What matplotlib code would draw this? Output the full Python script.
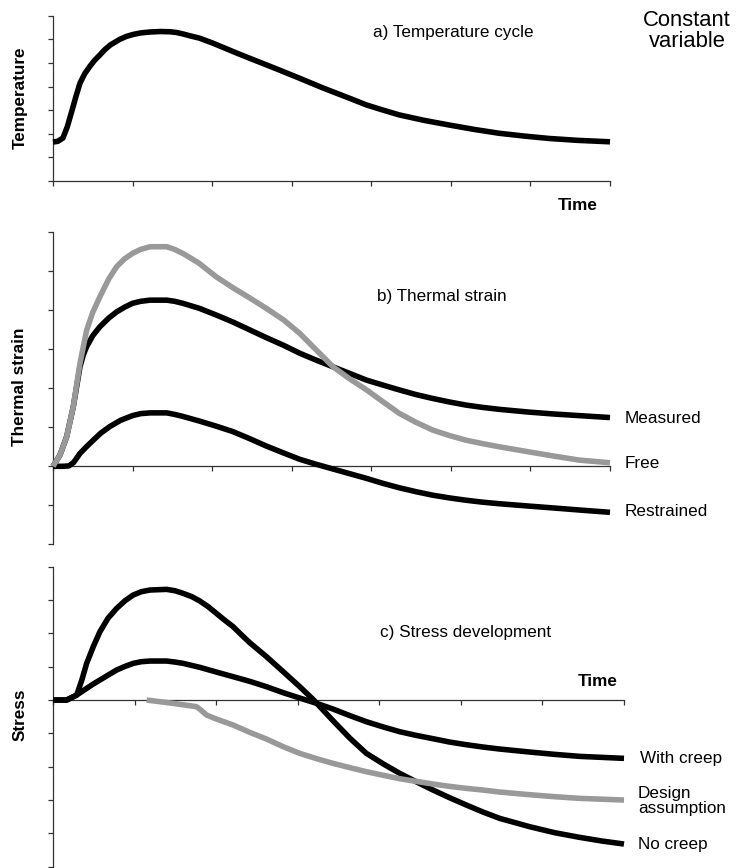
import numpy as np
import matplotlib
matplotlib.use("Agg")
import matplotlib.pyplot as plt

plt.rcParams['font.family'] = ['Liberation Sans', 'DejaVu Sans']

# a) temperature cycle
temp_t = [0, 0.06, 0.125, 0.18, 0.24, 0.29, 0.34, 0.40, 0.46, 0.52, 0.59, 0.65, 0.72,
          0.84, 0.92, 1.0, 1.1, 1.22, 1.35, 1.47, 1.55, 1.63, 1.72, 1.84, 2.0, 2.15,
          2.3, 2.47, 2.8, 3.1, 3.4, 3.73, 3.94, 4.15, 4.35, 4.66, 4.98, 5.3, 5.61,
          5.93, 6.24, 6.6, 7.0]
temp_v = [1.65, 1.68, 1.82, 2.3, 3.0, 3.6, 4.15, 4.55, 4.84, 5.1, 5.34, 5.56, 5.76,
          6.0, 6.12, 6.2, 6.27, 6.31, 6.33, 6.32, 6.29, 6.23, 6.15, 6.05, 5.85, 5.64,
          5.43, 5.2, 4.76, 4.35, 3.93, 3.5, 3.22, 3.0, 2.8, 2.57, 2.37, 2.18, 2.02,
          1.9, 1.80, 1.72, 1.66]

# b) thermal strain
free_t = [0, 0.088, 0.172, 0.255, 0.339, 0.423, 0.5, 0.59, 0.7, 0.8, 0.9, 1.0, 1.1,
          1.22, 1.43, 1.53, 1.63, 1.73, 1.84, 2.05, 2.26, 2.47, 2.68, 2.9, 3.1, 3.3,
          3.52, 3.73, 3.94, 4.15, 4.35, 4.56, 4.77, 4.98, 5.19, 5.4, 5.61, 5.98, 6.3,
          6.61, 7.0]
free_v = [0, 0.29, 0.76, 1.53, 2.64, 3.49, 3.95, 4.35, 4.8, 5.12, 5.32, 5.46, 5.56,
          5.63, 5.63, 5.56, 5.46, 5.34, 5.2, 4.86, 4.58, 4.32, 4.05, 3.75, 3.41, 3.0,
          2.55, 2.24, 1.96, 1.65, 1.36, 1.13, 0.93, 0.79, 0.67, 0.58, 0.5, 0.37, 0.26,
          0.16, 0.09]

meas_t = [0, 0.088, 0.172, 0.255, 0.339, 0.38, 0.423, 0.5, 0.59, 0.7, 0.8, 0.9, 1.0,
          1.1, 1.22, 1.43, 1.53, 1.63, 1.84, 2.05, 2.26, 2.47, 2.68, 2.9, 3.1, 3.31,
          3.52, 3.73, 3.94, 4.15, 4.35, 4.56, 4.77, 4.98, 5.19, 5.4, 5.61, 5.98, 6.3,
          6.61, 7.0]
meas_v = [0, 0.29, 0.76, 1.53, 2.55, 2.85, 3.07, 3.35, 3.58, 3.8, 3.96, 4.08, 4.18,
          4.23, 4.26, 4.26, 4.23, 4.18, 4.05, 3.88, 3.7, 3.5, 3.3, 3.1, 2.9, 2.72,
          2.55, 2.38, 2.21, 2.08, 1.96, 1.84, 1.74, 1.65, 1.57, 1.51, 1.46, 1.39, 1.34,
          1.3, 1.25]

rest_t = [0, 0.125, 0.2, 0.26, 0.339, 0.42, 0.506, 0.6, 0.715, 0.85, 1.0, 1.1, 1.22,
          1.43, 1.53, 1.63, 1.84, 2.05, 2.26, 2.47, 2.68, 2.9, 3.1, 3.31, 3.52, 3.73,
          3.94, 4.15, 4.35, 4.56, 4.77, 4.98, 5.19, 5.4, 5.61, 5.98, 6.3, 6.61, 7.0]
rest_v = [0, 0, 0.01, 0.1, 0.33, 0.5, 0.67, 0.85, 1.02, 1.18, 1.3, 1.35, 1.37,
          1.37, 1.33, 1.28, 1.16, 1.03, 0.89, 0.71, 0.52, 0.34, 0.18, 0.05, -0.07, -0.19,
          -0.31, -0.44, -0.55, -0.65, -0.74, -0.81, -0.87, -0.92, -0.96, -1.02, -1.07,
          -1.12, -1.18]

# c) stress development
nocreep_t = [0, 0.164, 0.287, 0.35, 0.409, 0.49, 0.572, 0.67, 0.777, 0.88, 0.98, 1.08,
             1.185, 1.39, 1.49, 1.593, 1.7, 1.798, 1.9, 2.0, 2.1, 2.206, 2.31, 2.41,
             2.615, 2.82, 3.023, 3.186, 3.431, 3.64, 3.84, 4.05, 4.249, 4.45, 4.657,
             4.86, 5.066, 5.27, 5.475, 5.843, 6.15, 6.456, 6.73, 7.0]
nocreep_v = [0, 0, 0.15, 0.6, 1.1, 1.6, 2.05, 2.45, 2.75, 2.98, 3.15, 3.25,
             3.3, 3.32, 3.28, 3.2, 3.1, 2.97, 2.8, 2.6, 2.4, 2.2, 1.95, 1.72,
             1.3, 0.85, 0.4, 0.02, -0.62, -1.15, -1.6, -1.92, -2.2, -2.45, -2.7,
             -2.93, -3.15, -3.36, -3.55, -3.8, -3.98, -4.12, -4.23, -4.32]

creep_t = [0, 0.164, 0.287, 0.409, 0.49, 0.572, 0.68, 0.777, 0.88, 0.98, 1.08, 1.185,
           1.39, 1.49, 1.593, 1.798, 2.0, 2.206, 2.41, 2.615, 2.82, 3.023, 3.23, 3.431,
           3.64, 3.84, 4.05, 4.249, 4.45, 4.657, 4.86, 5.066, 5.27, 5.475, 5.843, 6.15,
           6.456, 7.0]
creep_v = [0, 0, 0.15, 0.35, 0.48, 0.6, 0.76, 0.9, 1.01, 1.1, 1.15, 1.17,
           1.17, 1.14, 1.1, 0.98, 0.84, 0.7, 0.56, 0.4, 0.22, 0.06, -0.1, -0.27,
           -0.47, -0.65, -0.81, -0.95, -1.06, -1.16, -1.26, -1.34, -1.41, -1.47, -1.56,
           -1.63, -1.69, -1.75]

design_t = [1.145, 1.47, 1.757, 1.8, 1.88, 2.0, 2.206, 2.41, 2.615, 2.82, 3.023, 3.23,
            3.431, 3.64, 3.84, 4.05, 4.249, 4.45, 4.657, 4.86, 5.066, 5.27, 5.475,
            5.843, 6.15, 6.456, 7.0]
design_v = [0, -0.1, -0.2, -0.28, -0.45, -0.57, -0.75, -0.97, -1.17, -1.4, -1.6, -1.76,
            -1.9, -2.03, -2.15, -2.26, -2.36, -2.44, -2.52, -2.59, -2.65, -2.7, -2.76,
            -2.84, -2.9, -2.95, -3.0]

W, H = 736, 868
BLACK = '#000000'
GRAY = '#999999'
LW = 4.0
FS = 12.3


def fx(px):
    return px / W


def fy(py):
    return 1 - py / H


def make_axes(left, top, right, bottom, ylim):
    ax = fig.add_axes([fx(left), fy(bottom), fx(right) - fx(left), fy(top) - fy(bottom)])
    ax.set_xlim(0, 7)
    ax.set_ylim(*ylim)
    ax.patch.set_alpha(0)
    for s in ['top', 'right']:
        ax.spines[s].set_visible(False)
    for s in ['left', 'bottom']:
        ax.spines[s].set_linewidth(0.9)
        ax.spines[s].set_color('#333333')
    ax.spines['bottom'].set_position(('data', 0 if ylim[0] < 0 else ylim[0]))
    ax.set_xticks(range(0, 8))
    ax.set_yticks(range(ylim[0], ylim[1] + 1))
    ax.tick_params(direction='out', length=3.5, width=0.9, color='#333333',
                   labelbottom=False, labelleft=False)
    return ax


def curve(ax, t, v, color):
    ax.plot(t, v, color=color, lw=LW, solid_capstyle='butt', solid_joinstyle='round',
            clip_on=False, zorder=3)


fig = plt.figure(figsize=(W / 100, H / 100), dpi=100)

# panel a
ax1 = make_axes(53, 15.7, 610, 181, (0, 7))
curve(ax1, temp_t, temp_v, BLACK)

# panel b
ax2 = make_axes(53, 232.3, 610, 544.3, (-2, 6))
curve(ax2, meas_t, meas_v, BLACK)
curve(ax2, rest_t, rest_v, BLACK)
curve(ax2, free_t, free_v, GRAY)

# panel c
ax3 = make_axes(53.3, 566.7, 624, 866.7, (-5, 4))
curve(ax3, nocreep_t, nocreep_v, BLACK)
curve(ax3, creep_t, creep_v, BLACK)
curve(ax3, design_t, design_v, GRAY)

# axis titles
for label, yc in [('Temperature', 98), ('Thermal strain', 387), ('Stress', 715)]:
    fig.text(fx(20), fy(yc), label, rotation=90, fontsize=FS, fontweight='bold',
             ha='center', va='center')
fig.text(fx(578), fy(205), 'Time', fontsize=FS, fontweight='bold', ha='center', va='center')
fig.text(fx(598), fy(681), 'Time', fontsize=FS, fontweight='bold', ha='center', va='center')

# panel titles
fig.text(fx(373), fy(32), 'a) Temperature cycle', fontsize=FS, ha='left', va='center')
fig.text(fx(377), fy(296), 'b) Thermal strain', fontsize=FS, ha='left', va='center')
fig.text(fx(380), fy(633), 'c) Stress development', fontsize=FS, ha='left', va='center')
fig.text(fx(687), fy(31), 'Constant\nvariable', fontsize=15.8, ha='center', va='center',
         linespacing=1.05)

# curve labels
fig.text(fx(625), fy(418), 'Measured', fontsize=FS, ha='left', va='center')
fig.text(fx(625), fy(463), 'Free', fontsize=FS, ha='left', va='center')
fig.text(fx(625), fy(512), 'Restrained', fontsize=FS, ha='left', va='center')
fig.text(fx(640), fy(758), 'With creep', fontsize=FS, ha='left', va='center')
fig.text(fx(638), fy(801), 'Design\nassumption', fontsize=FS, ha='left', va='center',
         linespacing=1.05)
fig.text(fx(638), fy(845), 'No creep', fontsize=FS, ha='left', va='center')

fig.savefig('out.png', dpi=100)
